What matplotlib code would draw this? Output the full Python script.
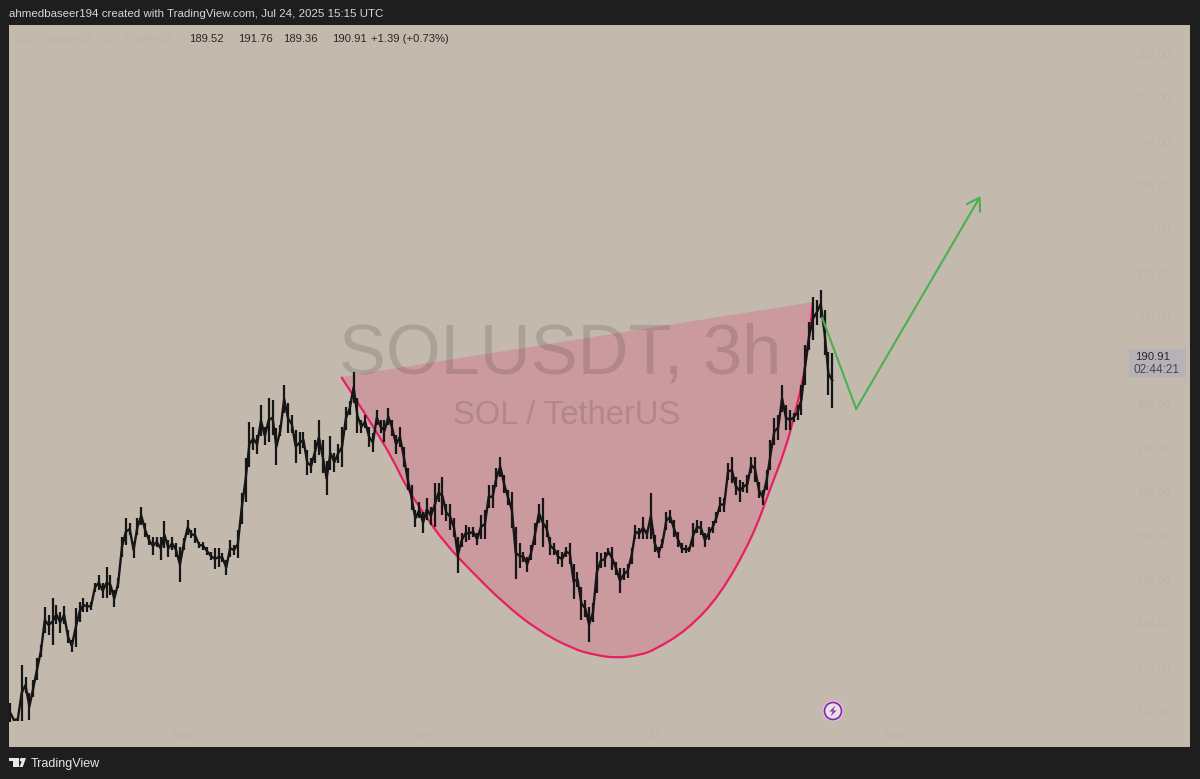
import numpy as np
import matplotlib
matplotlib.use('Agg')
import matplotlib.pyplot as plt
from matplotlib.patches import Polygon, Circle, Rectangle, PathPatch
from matplotlib.path import Path

# half-day price ranges, starting Apr 8
lows = [107.8,108,108,108,114.3,108.2,113.5,117.3,122.6,128,127.6,125.3,130.2,128,130.2,125.7,123.8,124.9,130.6,132.9,
        132.9,133.3,137.5,137.9,136,136,136.7,133.9,138.2,145.5,148.1,150.4,145.1,150.4,152.7,150,148.1,145.8,147.7,144.7,
        147.4,145.5,147,145.5,139.7,147,150.4,149.7,148.5,147.4,147,145.8,144.7,142.6,143.2,144.3,141.3,145.5,145.8,145.1,
        153,158,166,169.8,169,172.9,171,171.7,173.2,166.4,172.9,178.2,173.6,173.6,166.8,169,170.2,164.1,164.5,166.8,
        168.7,164.5,159.5,165.3,164.9,166.8,166,174.4,177.8,180.5,173.6,173.6,174.8,170.6,169.4,175.5,173.6,171.7,175.5,172.9,
        169,170.6,166,160.7,156.1,152.3,154.2,150.8,153.8,152.7,152.3,158,155,153.5,151.6,150,141.7,147.7,148.9,149.3,
        150,148.1,149.6,149.6,156.5,156.5,161.4,163.7,159.9,157.3,151.9,140.3,142.8,144.3,142,144.7,148.1,153.1,147.7,150,
        145.8,145.8,143.9,143.2,145.5,143.9,135.7,138.6,131,131.8,126,130.6,137.1,142.8,143.2,145.8,142.4,141.3,137.2,140.1,
        140.5,143.9,149.6,149.6,149.6,149.6,149.6,146.6,145.1,147.4,151.6,153.1,150,147.7,146.2,146.2,146.6,147.7,150.8,150.4,
        147.7,149.3,150.8,153.1,155.7,155.7,163,162.2,159.5,158,160.3,159.9,164.5,162.6,158.8,157.3,160.7,165.3,171,172.1,
        178.5,174.4,174.4,176.2,176.7,177.8,184.7,192.6,194.9,198.4,200,191.5,182.4,179.4]
highs = [112,108.4,108.6,120.7,118,114.3,117.3,122.3,125.3,134,132.1,136,134.4,132.9,134.2,128.7,126.4,133.7,135.2,136,
         135.2,135.2,139.4,141.3,139.4,143,141.3,137.9,140.5,150,154.2,153.1,148.9,154.2,156.9,153.1,150.4,150,150,150,
         153.5,149.3,150,148.5,147.7,149.7,153.8,151.6,151.9,148.9,148.9,147.7,146.6,147.4,147.4,146.2,144.7,149.3,148.1,151.6,
         160,168,176.3,175.1,173.2,180.1,175.1,181.6,181.2,174.8,175.5,184.7,180.5,177.8,174.4,174,174,169.8,167.9,172.1,
         176.7,172.1,167.2,172.9,169.1,171.3,175.1,179.7,180.9,187.7,181.6,176.7,177.8,175.1,173.6,178.9,176.7,176.7,179.3,176.7,
         173.2,175.1,170.6,165.6,161.8,156.1,158,155.7,158.8,156.9,162.2,162.2,163.7,157.6,157.6,154.2,150,150.8,152.7,152.3,
         152.3,150.8,155,156.1,161.8,161.8,165.6,168.3,164.1,160.7,160.3,152.3,148.5,146.6,145.5,148.1,153.1,157.6,158.8,153.8,
         150,148.5,147,146.6,147.7,148.5,143.9,142,138.6,135.6,134,134.8,146.6,146.2,146.6,147.4,147.7,144.3,142.8,142.8,
         143.9,147.4,152.7,151.9,154.6,151.6,159.9,150.4,147.7,149.6,155.7,156.1,153.8,151.2,148.5,148.1,147.7,153.1,153.8,153.5,
         150.8,152.3,153.5,155.7,159.2,158.8,166.8,168.3,163.7,163,162.6,164.1,168.3,168.3,162.6,160.7,165.2,172.1,177.1,177.8,
         184.7,180.1,179,178.3,180.1,184.7,193.8,199,204.7,204.1,206.3,201.8,192.2,192]
first_day = -22.4  # days from May 1
bar_step = 0.5

# cup outline and target path, days from May 1 and price
arc_days = [20.5,22.7,24.9,27.1,29.0,31.3,33.9,37.2,41.5,45.9,50.5,53.4,56.2,59.2,61.1,65.3,69.6,73.8,76,78,79.3,80.3,81,81.6]
arc_prices = [186.5,180.5,174.4,168,161.1,155,148.6,142.4,134.9,128.7,124.4,123,122.3,123.0,124.2,128.7,136.7,150,160.7,169.8,178.3,185.8,193.3,203.6]
path_days = [82.8,87.2,103.3]
path_prices = [200,179.2,227.8]

price_ticks = [110,120,130,140,150,160,170,180,200,210,220,230,240,250,260]
month_days = [0,31,61,92]
month_labels = ['May','Jun','Jul','Aug']
ohlc_text = ['189.52','191.76','189.36','190.91']

bg = '#c3b9ad'
dark = '#1e1e1e'
faint = '#bbb5b0'
pink = '#e91e63'
green = '#4caf50'
plt.rcParams['font.family'] = ['Liberation Sans','DejaVu Sans']

fig = plt.figure(figsize=(12,7.79),dpi=100,facecolor=dark)
ax = fig.add_axes([9/1200,1-747/779,1181/1200,722/779],facecolor=bg)

days = first_day+bar_step*np.arange(len(lows))
mids = (np.array(lows)+np.array(highs))/2
ax.set_xlim((9-183)/7.72,(1190-183)/7.72)
ax.set_ylim(110+(712-747)/4.38,110+(712-25)/4.38)
for s in ax.spines.values():
    s.set_visible(False)
ax.set_xticks([])
ax.set_yticks([])

# cup, smoothed with quadratic segments through the read points
arc = np.column_stack([arc_days,arc_prices])
verts = [arc[0]]
codes = [Path.MOVETO]
for i in range(1,len(arc)-1):
    end = arc[-1] if i==len(arc)-2 else (arc[i]+arc[i+1])/2
    verts += [arc[i],end]
    codes += [Path.CURVE3,Path.CURVE3]
ax.add_patch(PathPatch(Path(verts+[arc[0]],codes+[Path.CLOSEPOLY]),fc=pink,alpha=0.2,lw=0,zorder=1))
ax.add_patch(PathPatch(Path(verts,codes),fc='none',ec=pink,lw=1.6,zorder=2))

# watermark
ax.text(0.4665,0.5415,'SOLUSDT, 3h',transform=ax.transAxes,ha='center',va='center',fontsize=50.7,color='black',alpha=0.12,zorder=3)
ax.text(0.4725,0.459,'SOL / TetherUS',transform=ax.transAxes,ha='center',va='center',fontsize=23.6,color='black',alpha=0.12,zorder=3)

# price
ax.plot(days,mids,color='#161616',lw=1.7,zorder=4,solid_joinstyle='round')
ax.vlines(days,lows,highs,color='#161616',lw=1.6,zorder=5)

# target path
ax.plot(path_days[:2],path_prices[:2],color=green,lw=1.5,zorder=6)
ax.annotate('',xy=(path_days[2],path_prices[2]),xytext=(path_days[1],path_prices[1]),zorder=6,
            arrowprops=dict(arrowstyle='->,head_length=0.85,head_width=0.55',color=green,lw=1.5,shrinkA=0,shrinkB=0))

# axis labels, very faint in the original
for p in price_ticks:
    ax.annotate('%.2f' % p,xy=(1,p),xycoords=('axes fraction','data'),xytext=(-37,0),textcoords='offset pixels',
                ha='center',va='center',fontsize=8,color=faint,zorder=7)
for d,m in zip(month_days,month_labels):
    ax.annotate(m,xy=(d,0),xycoords=('data','axes fraction'),xytext=(0,12),textcoords='offset pixels',
                ha='center',va='center',fontsize=8,color=faint,zorder=7)

# chrome drawn in pixel space
ov = fig.add_axes([0,0,1,1],facecolor='none')
ov.set_xlim(0,1200)
ov.set_ylim(779,0)
ov.axis('off')
ov.text(9,14,'ahmedbaseer194 created with TradingView.com, Jul 24, 2025 15:15 UTC',fontsize=8.25,color='#d6d6d6',va='center')
ov.text(15,39,'SOL / TetherUS · 3h · BINANCE',fontsize=8,color=faint,va='center')
for x,t in zip([189,238,283,332],ohlc_text):
    ov.text(x,39,t,fontsize=8.1,color='#2a2826',va='center')
ov.text(371,39,'+1.39 (+0.73%)',fontsize=8.1,color='#2a2826',va='center')
ov.add_patch(Rectangle((1129,349),57,28,color='#b5b3b8',lw=0))
ov.text(1135,356.5,'190.91',fontsize=8.2,color='#2a2826',va='center')
ov.text(1134,369.5,'02:44:21',fontsize=8.5,color='#4a4846',va='center')

# lightning badge
ov.add_patch(Circle((833,711),10.5,color='#eeb8ee',lw=0))
ov.add_patch(Circle((833,711),8.5,fc='#e9e1ea',ec='#7b2d9b',lw=1.2))
ov.add_patch(Polygon([(835.5,705.5),(829.5,711.5),(832.8,711.5),(830.5,716.5),(836.5,710.5),(833.2,710.5)],color='#9c27b0',lw=0))

# logo
ov.add_patch(Polygon([(9.3,758),(19.3,758),(19.3,767),(13.3,767),(13.3,761.3),(9.3,761.3)],color='#e8e8e8',lw=0))
ov.add_patch(Circle((21.7,759.8),1.9,color='#e8e8e8',lw=0))
ov.add_patch(Polygon([(19.3,767),(23.3,758),(26,758),(22.7,767)],color='#e8e8e8',lw=0))
ov.text(30.5,763.5,'TradingView',fontsize=9.0,color='#e8e8e8',va='center')

fig.savefig('out.png',dpi=100,facecolor=dark)
